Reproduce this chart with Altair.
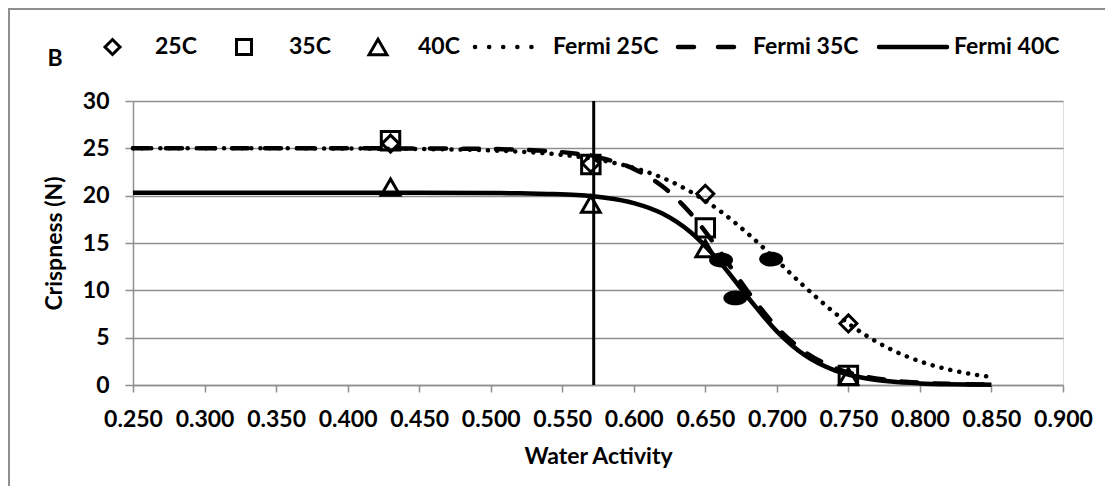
import altair as alt
import pandas as pd

# ---------------- data ----------------
aw_obs = [0.43, 0.57, 0.65, 0.75]
crisp_25 = [25.5, 23.4, 20.2, 6.5]
crisp_35 = [25.8, 23.3, 16.6, 1.0]
crisp_40 = [20.9, 19.1, 14.4, 0.9]

blob_aw = [0.661, 0.671, 0.696]
blob_crisp = [13.2, 9.2, 13.3]

fit_aw = [0.25, 0.30, 0.35, 0.40, 0.45, 0.50, 0.52, 0.54, 0.56, 0.58, 0.60, 0.62,
          0.64, 0.66, 0.68, 0.70, 0.72, 0.74, 0.76, 0.78, 0.80, 0.82, 0.84, 0.85]
fermi_25 = [25.0, 25.0, 25.0, 24.98, 24.93, 24.78, 24.65, 24.45, 24.14, 23.66, 22.94, 21.89,
            20.39, 18.42, 15.95, 13.16, 10.30, 7.67, 5.46, 3.74, 2.50, 1.64, 1.06, 0.85]
fermi_35 = [25.0, 25.0, 25.0, 25.0, 24.99, 24.93, 24.86, 24.71, 24.43, 23.87, 22.83, 20.99,
            18.08, 14.13, 9.82, 6.09, 3.45, 1.85, 0.95, 0.48, 0.24, 0.12, 0.06, 0.04]
fermi_40 = [20.3, 20.3, 20.3, 20.3, 20.3, 20.28, 20.25, 20.18, 20.06, 19.78, 19.22, 18.11,
            16.11, 13.02, 9.22, 5.67, 3.10, 1.57, 0.76, 0.36, 0.17, 0.08, 0.04, 0.02]

aw_line = [0.572]

x_ticks = [0.25, 0.30, 0.35, 0.40, 0.45, 0.50, 0.55, 0.60, 0.65, 0.70, 0.75, 0.80, 0.85, 0.90]
y_ticks = [0, 5, 10, 15, 20, 25, 30]

legend_labels = ["25C", "35C", "40C", "Fermi 25C", "Fermi 35C", "Fermi 40C"]
panel_label = "B"

# ---------------- styling ----------------
FONT = "Lato"
FS = 23
GRAY = "#8f8f8f"
W, H = 930, 284

obs = pd.DataFrame({"aw": aw_obs, "c25": crisp_25, "c35": crisp_35, "c40": crisp_40})
fits = pd.DataFrame({"aw": fit_aw, "f25": fermi_25, "f35": fermi_35, "f40": fermi_40})
blobs = pd.DataFrame({"aw": blob_aw, "c": blob_crisp})
vline = pd.DataFrame({"aw": aw_line})
one = pd.DataFrame({"k": [0]})

xs = alt.Scale(domain=[0.25, 0.9], nice=False, zero=False)
ys = alt.Scale(domain=[0, 30], nice=False, zero=True)

xaxis = alt.Axis(values=x_ticks, format=".3f", title="Water Activity", grid=False,
                 domainColor=GRAY, domainWidth=1.5, tickColor=GRAY, tickWidth=1.5, tickSize=7,
                 labelFont=FONT, labelFontWeight="bold", labelFontSize=FS, labelColor="black",
                 labelPadding=16, labelFlush=False, labelOverlap=False,
                 titleFont=FONT, titleFontWeight="bold", titleFontSize=FS, titleColor="black",
                 titlePadding=14)
yaxis = alt.Axis(values=y_ticks, title="Crispness (N)", grid=True, gridColor=GRAY, gridWidth=1.5,
                 domainColor=GRAY, domainWidth=1.5, tickColor=GRAY, tickWidth=1.5, tickSize=8,
                 labelFont=FONT, labelFontWeight="bold", labelFontSize=FS, labelColor="black",
                 labelPadding=16, labelFlush=False,
                 titleFont=FONT, titleFontWeight="bold", titleFontSize=FS, titleColor="black",
                 titlePadding=16)


def X(f):
    return alt.X(f, type="quantitative", scale=xs, axis=xaxis)


def Y(f):
    return alt.Y(f, type="quantitative", scale=ys, axis=yaxis)


# outer chart-area frame (only left and top edges lie inside the picture)
frame_left = alt.Chart(one).mark_rule(color=GRAY, strokeWidth=2).encode(
    x=alt.value(-124), y=alt.value(-93), y2=alt.value(385))
frame_top = alt.Chart(one).mark_rule(color=GRAY, strokeWidth=2).encode(
    x=alt.value(-125), x2=alt.value(972), y=alt.value(-92))

vrule = alt.Chart(vline).mark_rule(color="black", strokeWidth=3).encode(x=X("aw"))

line25 = alt.Chart(fits).mark_line(color="black", strokeWidth=4.5, strokeDash=[0.1, 9],
                                   strokeCap="round", interpolate="monotone").encode(x=X("aw"), y=Y("f25"))
line35 = alt.Chart(fits).mark_line(color="black", strokeWidth=4.5, strokeDash=[16, 17],
                                   strokeCap="round", interpolate="monotone").encode(x=X("aw"), y=Y("f35"))
line40 = alt.Chart(fits).mark_line(color="black", strokeWidth=4.5,
                                   interpolate="monotone").encode(x=X("aw"), y=Y("f40"))

pts25 = alt.Chart(obs).mark_point(shape="diamond", filled=False, color="black", strokeWidth=3,
                                  size=289, opacity=1).encode(x=X("aw"), y=Y("c25"))
pts35 = alt.Chart(obs).mark_point(shape="square", filled=False, color="black", strokeWidth=3,
                                  size=340, opacity=1).encode(x=X("aw"), y=Y("c35"))
pts40 = alt.Chart(obs).mark_point(shape="triangle-up", filled=False, color="black", strokeWidth=3,
                                  size=350, opacity=1).encode(x=X("aw"), y=Y("c40"))

ellipse = "M-1,0A1,0.62,0,1,0,1,0A1,0.62,0,1,0,-1,0Z"
blob_layer = alt.Chart(blobs).mark_point(shape=ellipse, filled=True, color="black", size=576,
                                         opacity=1).encode(x=X("aw"), y=Y("c"))

# ---------------- hand-made legend row ----------------
LY = -54


def legend_text(label, x):
    return alt.Chart(one).mark_text(font=FONT, fontWeight="bold", fontSize=FS, align="left",
                                    baseline="middle", color="black").encode(
        x=alt.value(x), y=alt.value(LY), text=alt.value(label))


def legend_symbol(shape, x, size):
    return alt.Chart(one).mark_point(shape=shape, filled=False, color="black", strokeWidth=3,
                                     size=size, opacity=1).encode(x=alt.value(x), y=alt.value(LY))


def legend_line(x1, x2, **kw):
    return alt.Chart(one).mark_rule(color="black", strokeWidth=4.5, **kw).encode(
        x=alt.value(x1), x2=alt.value(x2), y=alt.value(LY))


legend = [
    legend_symbol("diamond", -20.5, 225), legend_text(legend_labels[0], 22),
    legend_symbol("square", 111, 225), legend_text(legend_labels[1], 156),
    legend_symbol("triangle-up", 245, 320), legend_text(legend_labels[2], 285),
    legend_line(342, 411, strokeDash=[0.1, 14], strokeCap="round"), legend_text(legend_labels[3], 420),
    legend_line(545, 601, strokeDash=[16, 24], strokeCap="round"), legend_text(legend_labels[4], 620),
    legend_line(746, 814, strokeCap="round"), legend_text(legend_labels[5], 821),
]

b_text = alt.Chart(one).mark_text(font=FONT, fontWeight="bold", fontSize=FS, align="center",
                                  baseline="middle", color="black").encode(
    x=alt.value(-78), y=alt.value(-42), text=alt.value(panel_label))

chart = alt.layer(
    frame_left, frame_top, vrule, line25, line35, line40, pts25, pts35, pts40, blob_layer,
    *legend, b_text
).properties(
    width=W, height=H,
    autosize=alt.AutoSizeParams(type="none"),
    padding={"left": 125, "top": 93, "right": 45, "bottom": 105},
).configure_view(stroke=None).configure(background="white")

chart.save("out.html", embed_options={"renderer": "svg", "actions": False})
